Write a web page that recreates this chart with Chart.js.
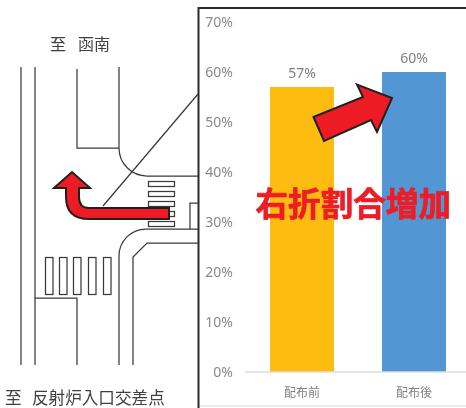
<!DOCTYPE html>
<html lang="ja">
<head>
<meta charset="utf-8">
<title>右折割合</title>
<script src="https://cdn.jsdelivr.net/npm/chart.js@4"></script>
<style>
    html, body { margin: 0; padding: 0; background: #fff; overflow: hidden; width: 466px; height: 408px; }
    canvas { display: block; }
</style>
</head>
<body>
<canvas id="turnChart" width="470" height="408"></canvas>
<script>
const categories = ['配布前', '配布後'];
const turnRates = [57, 60];
const barColors = ['#ffbc10', '#5296d3'];

const CJK_FONT = '"Noto Sans CJK JP", "Noto Sans", sans-serif';

function polyline(ctx, points) {
    ctx.beginPath();
    points.forEach(([x, y], i) => {
        if (i === 0) ctx.moveTo(x, y);
        else ctx.lineTo(x, y);
    });
    ctx.stroke();
}

function drawRoadMap(ctx) {
    ctx.save();
    ctx.strokeStyle = '#3a3a3a';
    ctx.lineWidth = 1.25;

    // Main road
    polyline(ctx, [[21, 67], [21, 365]]);
    polyline(ctx, [[35, 67], [35, 365]]);
    polyline(ctx, [[35, 298], [77, 298], [77, 365]]);

    // North-east corner
    polyline(ctx, [[77, 69], [77, 148], [119, 148]]);
    ctx.beginPath();
    ctx.moveTo(119, 67);
    ctx.lineTo(119, 148);
    ctx.arcTo(119, 176, 147, 176, 28);
    ctx.lineTo(198, 176);
    ctx.stroke();

    polyline(ctx, [[198, 94], [103, 206]]);

    // South-east corner
    ctx.beginPath();
    ctx.moveTo(198, 229);
    ctx.lineTo(146, 229);
    ctx.arcTo(119, 229, 119, 256, 27);
    ctx.lineTo(119, 365);
    ctx.stroke();
    polyline(ctx, [[198, 243], [147, 243], [133, 257], [133, 365]]);
    polyline(ctx, [[190, 229], [190, 203], [198, 203]]);

    // Crosswalks
    [181, 191, 201, 211, 221].forEach(y => ctx.strokeRect(148.5, y + 0.5, 26, 5));
    [45, 59, 73, 88, 103].forEach(x => ctx.strokeRect(x + 0.5, 257.5, 7.5, 37));

    // Place names
    ctx.fillStyle = '#404040';
    ctx.font = '16px ' + CJK_FONT;
    ctx.textBaseline = 'middle';
    ctx.fillText('至', 50, 44);
    ctx.fillText('函南', 78, 44);
    ctx.font = '16.6px ' + CJK_FONT;
    ctx.fillText('至', 5, 398);
    ctx.fillText('反射炉入口交差点', 32, 398);
    ctx.restore();
}

function drawPanelFrame(ctx) {
    ctx.save();
    ctx.strokeStyle = '#e4e4e4';
    ctx.lineWidth = 1.5;
    polyline(ctx, [[198, 406], [466, 406]]);
    ctx.strokeStyle = '#2b2b2b';
    ctx.lineWidth = 2;
    polyline(ctx, [[466, 8], [198.5, 8], [198.5, 408]]);
    ctx.restore();
}

function drawArrows(ctx) {
    ctx.save();
    ctx.fillStyle = '#ed1c24';
    ctx.strokeStyle = '#231f20';
    ctx.lineWidth = 2;
    ctx.lineJoin = 'miter';

    // Left-turn arrow on the junction
    ctx.beginPath();
    ctx.moveTo(169, 208);
    ctx.lineTo(89, 208);
    ctx.quadraticCurveTo(79, 208, 79, 197);
    ctx.lineTo(79, 188);
    ctx.lineTo(90, 188);
    ctx.lineTo(72, 172);
    ctx.lineTo(54, 188);
    ctx.lineTo(66, 188);
    ctx.lineTo(66, 197);
    ctx.quadraticCurveTo(66, 219, 89, 219);
    ctx.lineTo(169, 219);
    ctx.closePath();
    ctx.fill();
    ctx.stroke();

    // Rising arrow between the bars
    ctx.beginPath();
    ctx.moveTo(313.5, 117);
    ctx.lineTo(363, 97);
    ctx.lineTo(357, 84.5);
    ctx.lineTo(392, 98);
    ctx.lineTo(377, 132);
    ctx.lineTo(371, 120);
    ctx.lineTo(324, 141);
    ctx.closePath();
    ctx.fill();
    ctx.stroke();
    ctx.restore();
}

const overlayPlugin = {
    id: 'overlay',
    beforeDraw(chart) {
        drawRoadMap(chart.ctx);
    },
    afterDatasetsDraw(chart) {
        const ctx = chart.ctx;
        const bars = chart.getDatasetMeta(0).data;

        // Value labels above the bars
        ctx.save();
        ctx.fillStyle = '#7f7f7f';
        ctx.font = '14px "Noto Sans", sans-serif';
        ctx.textAlign = 'center';
        ctx.textBaseline = 'middle';
        bars.forEach((bar, i) => {
            ctx.fillText(turnRates[i] + '%', bar.x, bar.y - 13);
        });
        ctx.restore();
    },
    afterDraw(chart) {
        const ctx = chart.ctx;
        drawPanelFrame(ctx);
        drawArrows(ctx);

        ctx.save();
        ctx.fillStyle = '#ee1c25';
        ctx.strokeStyle = '#ee1c25';
        ctx.lineWidth = 0.7;
        ctx.font = 'bold 32.6px ' + CJK_FONT;
        ctx.textAlign = 'left';
        ctx.textBaseline = 'middle';
        ctx.fillText('右折割合増加', 255.5, 204);
        ctx.strokeText('右折割合増加', 255.5, 204);
        ctx.restore();
    }
};

function renderChart() {
    const ctx = document.getElementById('turnChart');

    new Chart(ctx, {
        type: 'bar',
        data: {
            labels: categories,
            datasets: [{
                data: turnRates,
                backgroundColor: barColors,
                borderWidth: 0,
                barPercentage: 0.571,
                categoryPercentage: 1
            }]
        },
        options: {
            responsive: false,
            animation: false,
            layout: {
                padding: { left: 198, top: 22, right: 0, bottom: 0 }
            },
            plugins: {
                legend: { display: false },
                tooltip: { enabled: false }
            },
            scales: {
                x: {
                    grid: { display: false, drawTicks: false },
                    border: { color: 'rgba(222, 222, 222, 0.75)', width: 2, z: 1 },
                    ticks: {
                        color: '#808080',
                        padding: 13,
                        font: { family: CJK_FONT, size: 12 }
                    },
                    afterFit(scale) {
                        scale.height = 36;
                    }
                },
                y: {
                    min: 0,
                    max: 70,
                    grid: { display: false, drawTicks: false },
                    border: { display: false },
                    ticks: {
                        stepSize: 10,
                        color: '#8a8a8a',
                        padding: 13,
                        labelOffset: 1,
                        font: { family: '"Noto Sans", sans-serif', size: 14 },
                        callback: value => value + '%'
                    },
                    afterFit(scale) {
                        scale.width = 48;
                    }
                }
            }
        },
        plugins: [overlayPlugin]
    });
}

document.addEventListener('DOMContentLoaded', renderChart);
</script>
</body>
</html>
